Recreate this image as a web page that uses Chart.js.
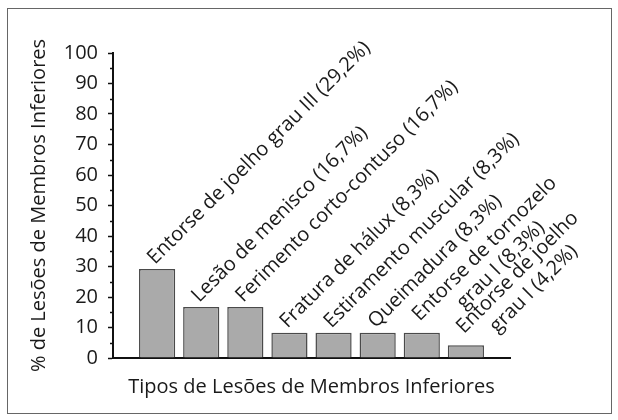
<!DOCTYPE html>
<html>
<head>
<meta charset="utf-8">
<script src="https://cdn.jsdelivr.net/npm/chart.js@4"></script>
<style>
  html, body { margin: 0; padding: 0; background: #fff; }
  #wrap { position: relative; width: 618px; height: 420px; }
  #frame { position: absolute; left: 7px; top: 8px; width: 603px; height: 404px; border: 1.5px solid #666; }
  #bar-chart { position: absolute; left: 0; top: 0; }
</style>
</head>
<body>
<div id="wrap">
  <div id="frame"></div>
  <canvas id="bar-chart" width="618" height="420"></canvas>
</div>
<script>
// injury types, multi-line ones are arrays
const categories = [
  'Entorse de joelho grau III (29,2%)',
  'Lesão de menisco (16,7%)',
  'Ferimento corto-contuso (16,7%)',
  'Fratura de hálux (8,3%)',
  'Estiramento muscular (8,3%)',
  'Queimadura (8,3%)',
  ['Entorse de tornozelo', 'grau I (8,3%)'],
  ['Entorse de joelho', 'grau I (4,2%)']
];
const percentages = [29.2, 16.7, 16.7, 8.3, 8.3, 8.3, 8.3, 4.2];

const yMin = 0;
const yMax = 100;
const yStep = 10;
const yTitle = '% de Lesões de Membros Inferiores';
const xTitle = 'Tipos de Lesões de Membros Inferiores';

const FONT = '"Open Sans", sans-serif';
const INK = '#1a1a1a';
const FSIZE = 20;

Chart.defaults.font.family = FONT;
Chart.defaults.color = INK;

// slanted labels above each bar
const barLabels = {
  id: 'barLabels',
  afterDatasetsDraw(chart) {
    const ctx = chart.ctx;
    const meta = chart.getDatasetMeta(0);
    meta.data.forEach((bar, i) => {
      const lbl = chart.data.labels[i];
      if (!lbl || chart.data.datasets[0].data[i] == null) return;
      const lines = Array.isArray(lbl) ? lbl : [lbl];
      ctx.save();
      ctx.font = '500 ' + FSIZE + 'px ' + FONT;
      ctx.fillStyle = INK;
      ctx.textAlign = 'left';
      ctx.textBaseline = 'alphabetic';
      const dy = lines.length > 1 ? -11 : -4;
      ctx.translate(bar.x - 2, bar.y + dy);
      ctx.rotate(-Math.PI / 4);
      const w0 = ctx.measureText(lines[0]).width;
      lines.forEach((line, k) => {
        const w = ctx.measureText(line).width;
        ctx.fillText(line, (w0 - w) / 2, k * 23);
      });
      ctx.restore();
    });
  }
};

// short minor ticks halfway between the labelled ones
const minorTicks = {
  id: 'minorTicks',
  afterDraw(chart) {
    const ctx = chart.ctx;
    const y = chart.scales.y;
    const x0 = chart.chartArea.left;
    ctx.save();
    ctx.strokeStyle = '#111';
    ctx.lineWidth = 1.5;
    for (let v = yMin + yStep / 2; v < yMax; v += yStep) {
      const py = Math.round(y.getPixelForValue(v)) + 0.5;
      ctx.beginPath();
      ctx.moveTo(x0 - 3, py);
      ctx.lineTo(x0, py);
      ctx.stroke();
    }
    ctx.restore();
  }
};

const ctx = document.querySelector('#bar-chart').getContext('2d');
const myChart = new Chart(ctx, {
  type: 'bar',
  data: {
    labels: ['', ...categories, ''],
    datasets: [{
      data: [null, ...percentages, null],
      backgroundColor: '#aaaaaa',
      borderColor: '#4a4a4a',
      borderWidth: 1.5,
      borderSkipped: 'bottom',
      barPercentage: 0.82,
      categoryPercentage: 1
    }]
  },
  options: {
    responsive: false,
    animation: false,
    layout: { padding: { top: 53, right: 108, left: 0, bottom: 0 } },
    plugins: {
      legend: { display: false },
      tooltip: { enabled: false }
    },
    scales: {
      x: {
        offset: false,
        grid: { display: false, drawTicks: false },
        border: { display: true, color: '#111', width: 2 },
        ticks: { display: false },
        title: {
          display: true,
          text: xTitle,
          color: INK,
          font: { size: FSIZE, weight: 500 },
          padding: { top: 0, bottom: 21 }
        },
        afterFit: s => { s.height = 62; }
      },
      y: {
        min: yMin,
        max: yMax,
        ticks: { stepSize: yStep, padding: 10, color: INK, font: { size: FSIZE, weight: 500 } },
        grid: { drawOnChartArea: false, tickLength: 5, tickWidth: 1.5, tickColor: '#111' },
        border: { color: '#111', width: 2 },
        title: {
          display: true,
          text: yTitle,
          color: INK,
          font: { size: FSIZE, weight: 500 },
          padding: { top: 27, bottom: 0 }
        },
        afterFit: s => { s.width = 113; }
      }
    }
  },
  plugins: [barLabels, minorTicks]
});
</script>
</body>
</html>
